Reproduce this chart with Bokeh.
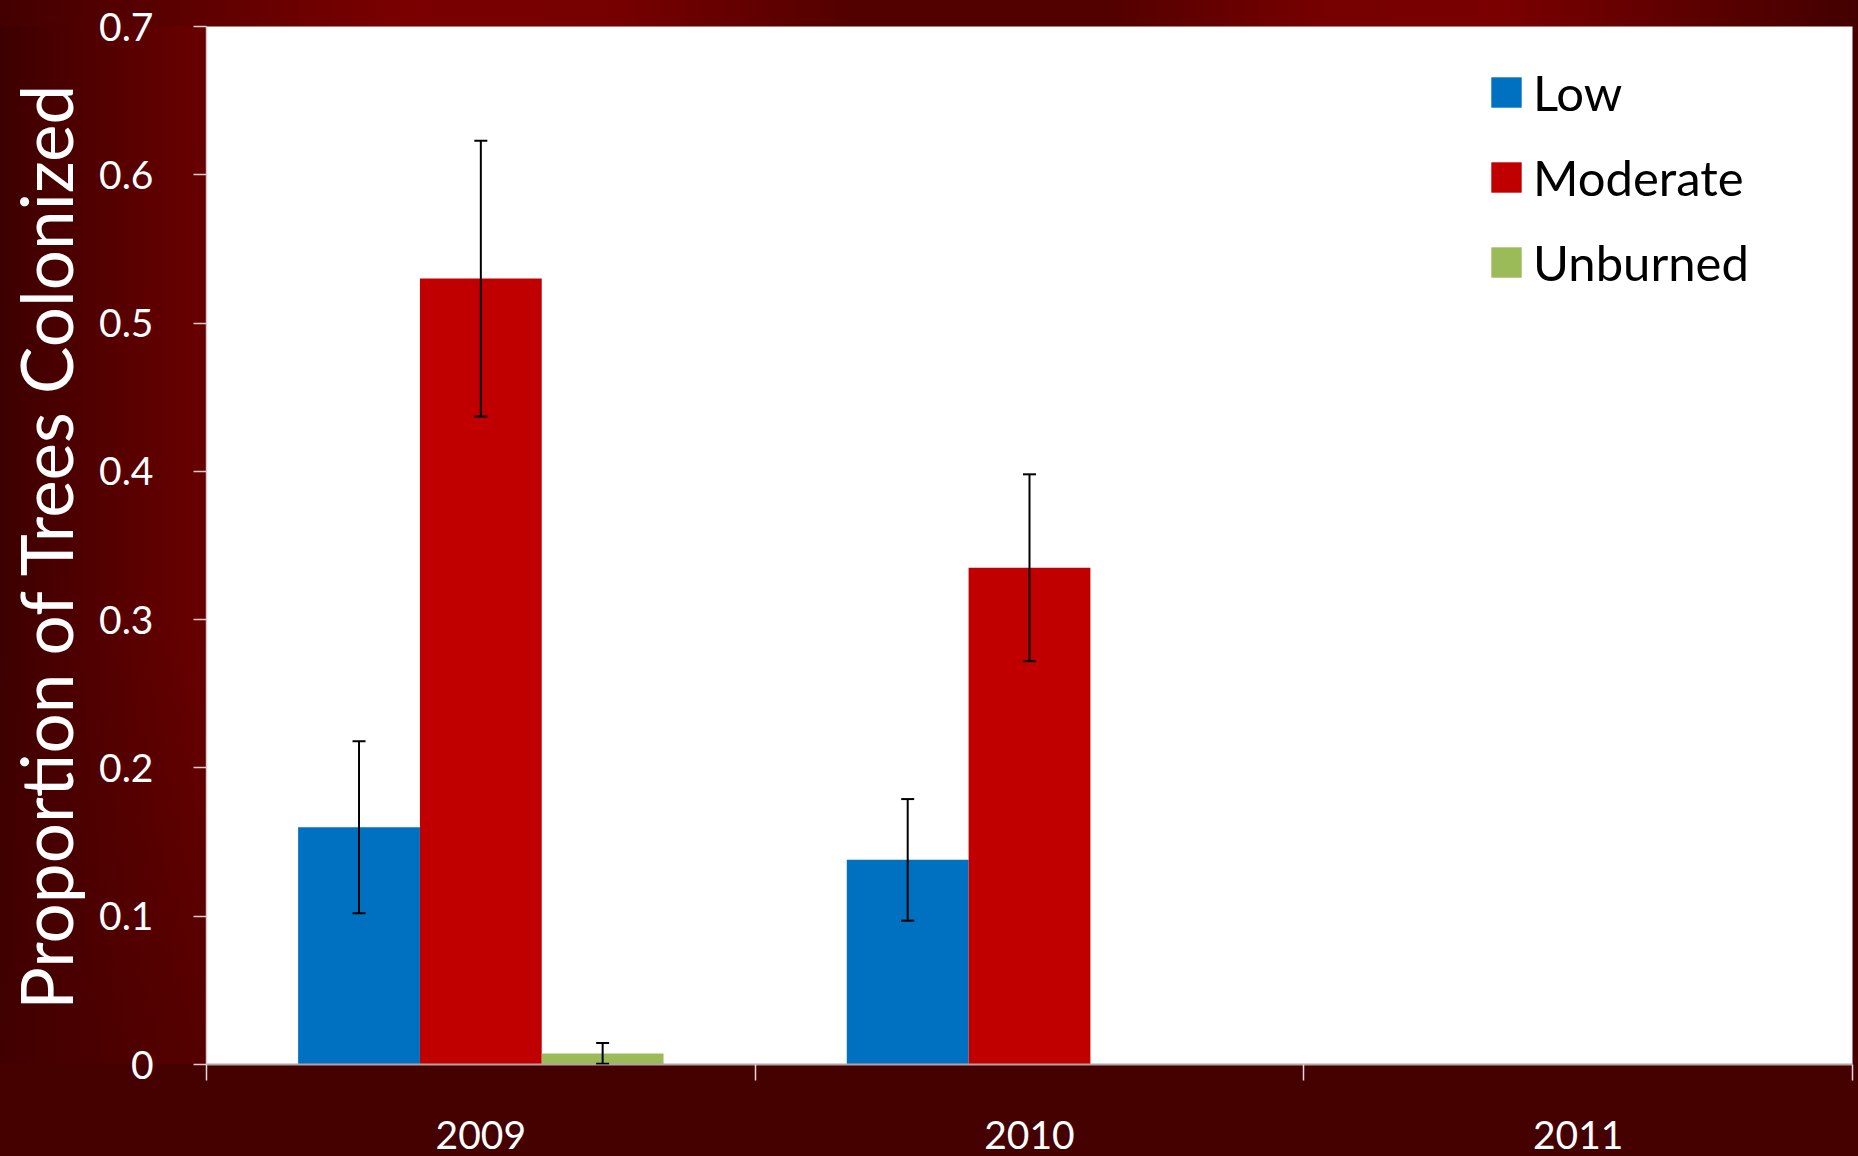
from bokeh.plotting import figure
from bokeh.models import (Range1d, FixedTicker, CustomJSTickFormatter, ColumnDataSource,
                          Whisker, TeeHead, Legend, LegendItem)
from bokeh.transform import dodge
from bokeh.embed import file_html
from bokeh.resources import INLINE

# ---- data ----
years = ["2009", "2010", "2011"]
series = ["Low", "Moderate", "Unburned"]
low = [0.160, 0.138, 0.0]
moderate = [0.530, 0.335, 0.0]
unburned = [0.0075, 0.0, 0.0]
low_err = [0.058, 0.041, 0.0]
moderate_err = [0.093, 0.063, 0.0]
unburned_err = [0.007, 0.0, 0.0]
y_ticks = [0, 0.1, 0.2, 0.3, 0.4, 0.5, 0.6, 0.7]
y_title = "Proportion of Trees Colonized"

colors = ["#0070C0", "#C00000", "#9BBB59"]
FONT = "Lato"
BAR_W = 0.222
offsets = [-BAR_W, 0.0, BAR_W]

values = [low, moderate, unburned]
errors = [low_err, moderate_err, unburned_err]

xc = [i + 0.5 for i in range(len(years))]
src = ColumnDataSource(dict(x=xc, year=years, Low=low, Moderate=moderate, Unburned=unburned))

p = figure(width=1858, height=1156, x_range=Range1d(0, len(years)), y_range=Range1d(0, 0.7),
           output_backend="svg", toolbar_location=None,
           min_border_left=205, min_border_right=6, min_border_top=26, min_border_bottom=92)
p.background_fill_color = "white"
p.border_fill_color = None
p.outline_line_color = None
p.xgrid.visible = False
p.ygrid.visible = False

renderers = []
for name, off, col in zip(series, offsets, colors):
    r = p.vbar(x=dodge("x", off, range=p.x_range), top=name, width=BAR_W, source=src,
               fill_color=col, line_color=None)
    renderers.append(r)

for vals, errs, off in zip(values, errors, offsets):
    xs = [x for x, e in zip(xc, errs) if e > 0]
    up = [v + e for v, e in zip(vals, errs) if e > 0]
    lo = [max(v - e, 0) for v, e in zip(vals, errs) if e > 0]
    if not xs:
        continue
    es = ColumnDataSource(dict(x=xs, up=up, lo=lo))
    w = Whisker(base=dodge("x", off, range=p.x_range), upper="up", lower="lo", source=es,
                line_color="black", line_width=2, level="overlay",
                upper_head=TeeHead(size=13, line_width=2, line_color="black"),
                lower_head=TeeHead(size=13, line_width=2, line_color="black"))
    p.add_layout(w)

# y axis
ya = p.yaxis[0]
ya.ticker = FixedTicker(ticks=y_ticks)
ya.formatter = CustomJSTickFormatter(code="return tick.toFixed(1).replace(/\\.0$/, '')")
ya.axis_line_color = "#dccccc"
ya.axis_line_width = 1.5
ya.major_tick_line_color = "#dccccc"
ya.major_tick_line_width = 1.5
ya.major_tick_out = 13
ya.major_tick_in = 0
ya.minor_tick_line_color = None
ya.major_label_text_color = "white"
ya.major_label_text_font = FONT
ya.major_label_text_font_size = "39px"
ya.major_label_standoff = 40
ya.axis_label = y_title
ya.axis_label_text_color = "white"
ya.axis_label_text_font = FONT
ya.axis_label_text_font_size = "71px"
ya.axis_label_text_font_style = "normal"
ya.axis_label_standoff = 8

# x axis: labels at category centres, tick marks at category boundaries
xa = p.xaxis[0]
xa.ticker = FixedTicker(ticks=xc, minor_ticks=list(range(len(years) + 1)))
xa.formatter = CustomJSTickFormatter(args=dict(years=years),
                                     code="return years[Math.floor(tick)]")
xa.axis_line_color = "#b4a4a4"
xa.axis_line_width = 2
xa.major_tick_out = 0
xa.major_tick_in = 0
xa.minor_tick_out = 16
xa.minor_tick_in = 0
xa.minor_tick_line_color = "#e6d8d8"
xa.minor_tick_line_width = 1.5
xa.major_label_text_color = "white"
xa.major_label_text_font = FONT
xa.major_label_text_font_size = "39px"
xa.major_label_standoff = 40

legend = Legend(items=[LegendItem(label=s, renderers=[r]) for s, r in zip(series, renderers)],
                location=(1281, 773), orientation="vertical",
                glyph_width=38, glyph_height=38, label_standoff=8,
                label_text_font=FONT, label_text_font_size="49px", label_text_color="black",
                spacing=27, padding=0, margin=0,
                border_line_color=None, background_fill_alpha=0)
p.add_layout(legend)

page_css = """<style>
body {
  background-color: #450000;
  background-image:
    linear-gradient(to bottom, rgba(69,0,0,0) 0px, rgba(69,0,0,0) 620px, rgba(69,0,0,0.55) 1064px),
    linear-gradient(to right, #430000 0px, #7a0000 400px, #760000 620px, #520000 860px, #520000 1100px, #760000 1320px, #7a0000 1500px, #430000 1858px),
    linear-gradient(to right, #3d0000 0px, #690000 205px);
  background-size: 205px 1064px, 100% 26px, 205px 1064px;
  background-position: 0 0, 0 0, 0 0;
  background-repeat: no-repeat;
}
</style>"""

html = file_html(p, INLINE)
html = html.replace("</head>", page_css + "</head>", 1)
open("out.html", "w").write(html)
